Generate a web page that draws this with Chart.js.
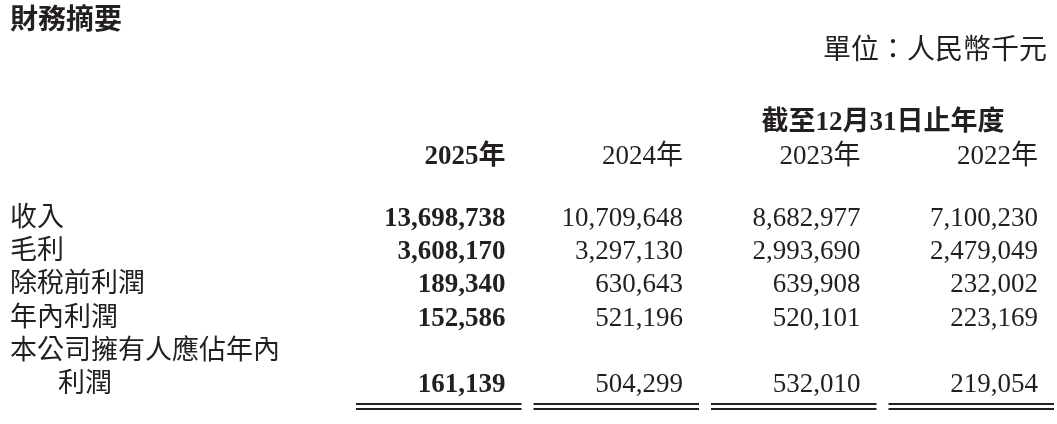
<!DOCTYPE html>
<html><head><meta charset="utf-8">
<script src="https://cdn.jsdelivr.net/npm/chart.js@4"></script>
<style>
html,body{margin:0;padding:0;background:#fff;}
#wrap{position:relative;width:1057px;height:424px;overflow:hidden;font-family:"Liberation Serif","Noto Sans CJK TC",serif;color:#231f20;}
canvas{position:absolute;left:0;top:0;}
.t{position:absolute;white-space:nowrap;font-size:26px;line-height:30px;transform:translateY(-50%);}
.r{transform:translate(-100%,-50%);}
.b{font-weight:bold;}
</style></head><body>
<div id="wrap"><canvas id="c" width="1057" height="424"></canvas></div>
<script>
const title = "財務摘要";
const unit = "單位：人民幣千元";
const periodHeader = "截至12月31日止年度";
const years = ["2025年","2024年","2023年","2022年"];
const rowLabels = ["收入","毛利","除稅前利潤","年內利潤","","利潤"];
const labelLine1 = "本公司擁有人應佔年內";
const v2025 = ["13,698,738","3,608,170","189,340","152,586","","161,139"];
const v2024 = ["10,709,648","3,297,130","630,643","521,196","","504,299"];
const v2023 = ["8,682,977","2,993,690","639,908","520,101","","532,010"];
const v2022 = ["7,100,230","2,479,049","232,002","223,169","","219,054"];
const cols = [v2025,v2024,v2023,v2022];

const wrap = document.getElementById('wrap');
function addText(txt,x,y,cls,extra){
  const d=document.createElement('div');d.className='t '+(cls||'');d.textContent=txt;
  d.style.left=x+'px';d.style.top=y+'px';if(extra)Object.assign(d.style,extra);wrap.appendChild(d);return d;
}
let placed=false;
const overlay={id:'overlay',afterDraw(chart){
  const xs=chart.scales.x, ys=chart.scales.y, ctx=chart.ctx;
  const half=(xs.getPixelForValue(1)-xs.getPixelForValue(0))/2;
  ctx.save();ctx.strokeStyle='#231f20';ctx.lineWidth=2.2;
  years.forEach((y,i)=>{
    const cx=xs.getPixelForValue(i), r=cx+half, l=cx-half+24;
    [404,409].forEach(yy=>{ctx.beginPath();ctx.moveTo(l,yy);ctx.lineTo(r+12,yy);ctx.stroke();});
  });
  ctx.restore();
  if(placed)return;placed=true;
  addText(title,10,20,'b',{fontSize:'28px'});
  addText(unit,1047,50,'r',{fontSize:'28px'});
  addText(periodHeader,883,121,'b',{transform:'translate(-50%,-50%)',fontSize:'27px'});
  years.forEach((y,i)=>{
    const r=xs.getPixelForValue(i)+half-4;
    addText(y,r,155,'r'+(i===0?' b':''),{fontSize:'27px'});
  });
  rowLabels.forEach((lab,j)=>{
    const py=ys.getPixelForValue(j);
    if(lab) addText(lab,j===5?58:10,py,'',{fontSize:'27px'});
    cols.forEach((col,i)=>{
      if(col[j]) addText(col[j],xs.getPixelForValue(i)+half-4,py,'r'+(i===0?' b':''),{fontSize:'27px'});
    });
  });
  addText(labelLine1,10,ys.getPixelForValue(4),'',{fontSize:'27px'});
}};
new Chart(document.getElementById('c'),{
  type:'bar',
  data:{labels:years,datasets:[{data:[]}]},
  options:{responsive:false,animation:false,
    layout:{padding:{left:332,right:15,top:200,bottom:24}},
    plugins:{legend:{display:false},tooltip:{enabled:false}},
    scales:{x:{type:'category',display:false},
            y:{type:'category',labels:rowLabels,offset:true,display:false}}},
  plugins:[overlay]
});
</script></body></html>
